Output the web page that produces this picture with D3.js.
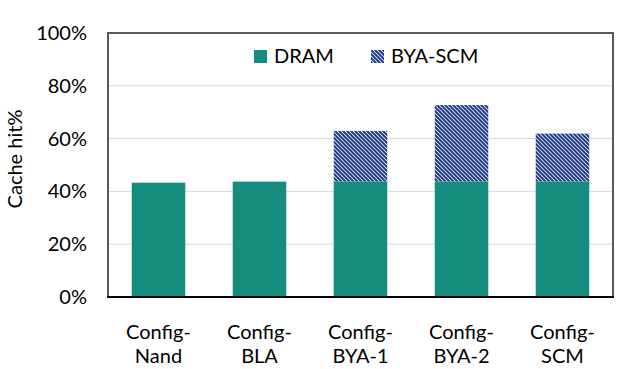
<!DOCTYPE html>
<html><head><meta charset="utf-8">
<script src="https://cdn.jsdelivr.net/npm/d3@7"></script>
<style>body{margin:0;background:#fff;} svg{display:block;}</style>
</head><body>
<svg id="c" width="628" height="369"></svg>
<script>
const categories = [["Config-","Nand"],["Config-","BLA"],["Config-","BYA-1"],["Config-","BYA-2"],["Config-","SCM"]];
const dramValues = [43.3, 43.7, 43.8, 43.8, 43.8];
const scmValues = [0, 0, 19.1, 28.9, 18.1];
const yTicks = [0, 20, 40, 60, 80, 100];
const seriesNames = ["DRAM", "BYA-SCM"];

const FONT = "Lato, 'Open Sans', sans-serif";
const teal = "#148c7e", navy = "#1f3c88";
const svg = d3.select("#c");
const m = {l:108, r:613, t:33, b:297};
const x = d3.scaleBand().domain(d3.range(categories.length)).range([m.l, m.r]).paddingInner(0.47).paddingOuter(0.235);
const y = d3.scaleLinear().domain([0,100]).range([m.b, m.t]);

const defs = svg.append("defs");
const pat = defs.append("pattern").attr("id","hatch").attr("patternUnits","userSpaceOnUse")
  .attr("width",4).attr("height",4);
pat.append("rect").attr("width",4).attr("height",4).attr("fill","#fff");
pat.append("path").attr("d","M-1,-1 L5,5 M-1,3 L1,5 M3,-1 L5,1").attr("stroke",navy).attr("stroke-width",2);

// gridlines
svg.append("g").selectAll("line").data(yTicks.filter(d=>d>0)).join("line")
  .attr("x1",m.l).attr("x2",m.r).attr("y1",d=>y(d)).attr("y2",d=>y(d))
  .attr("stroke","#d9d9d9").attr("stroke-width",1);

// bars
const idx = d3.range(categories.length);
svg.append("g").selectAll("rect").data(idx).join("rect")
  .attr("x",i=>x(i)).attr("width",x.bandwidth())
  .attr("y",i=>y(dramValues[i])).attr("height",i=>y(0)-y(dramValues[i]))
  .attr("fill",teal);
svg.append("g").selectAll("rect").data(idx.filter(i=>scmValues[i]>0)).join("rect")
  .attr("x",i=>x(i)).attr("width",x.bandwidth())
  .attr("y",i=>y(dramValues[i]+scmValues[i])).attr("height",i=>y(dramValues[i])-y(dramValues[i]+scmValues[i]))
  .attr("fill","url(#hatch)");

// frame
svg.append("path").attr("d",`M${m.l},${m.b} V${m.t} H${m.r} V${m.b}`).attr("fill","none")
  .attr("stroke","#595959").attr("stroke-width",2);
svg.append("line").attr("x1",m.l-1).attr("x2",m.r+1).attr("y1",m.b).attr("y2",m.b)
  .attr("stroke","#000").attr("stroke-width",2);

// y axis labels
const yAxis = d3.axisLeft(y).tickValues(yTicks).tickFormat(d=>d+"%").tickSize(0).tickPadding(21);
const ya = svg.append("g").attr("transform",`translate(${m.l},0)`).call(yAxis);
ya.select(".domain").remove();
ya.selectAll("text").attr("font-family",FONT).attr("font-size",20).attr("fill","#000");

// x labels
const xl = svg.append("g").selectAll("text").data(idx).join("text")
  .attr("x",i=>x(i)+x.bandwidth()/2).attr("y",339).attr("text-anchor","middle")
  .attr("font-family",FONT).attr("font-size",20).attr("fill","#000");
xl.append("tspan").attr("x",i=>x(i)+x.bandwidth()/2).text(i=>categories[i][0]);
xl.append("tspan").attr("x",i=>x(i)+x.bandwidth()/2).attr("dy",24).text(i=>categories[i][1]);

// y title
svg.append("text").attr("transform","translate(22,159) rotate(-90)").attr("text-anchor","middle")
  .attr("font-family",FONT).attr("font-size",20).attr("fill","#000").text("Cache hit%");

// legend
const leg = [{name:seriesNames[0], fill:teal, x:254},{name:seriesNames[1], fill:"url(#hatch)", x:371}];
const lg = svg.append("g").selectAll("g").data(leg).join("g").attr("transform",d=>`translate(${d.x},50)`);
lg.append("rect").attr("width",13).attr("height",13).attr("fill",d=>d.fill);
lg.append("text").attr("x",20).attr("y",13).attr("font-family",FONT).attr("font-size",20).attr("fill","#000").text(d=>d.name);
</script>
</body></html>
